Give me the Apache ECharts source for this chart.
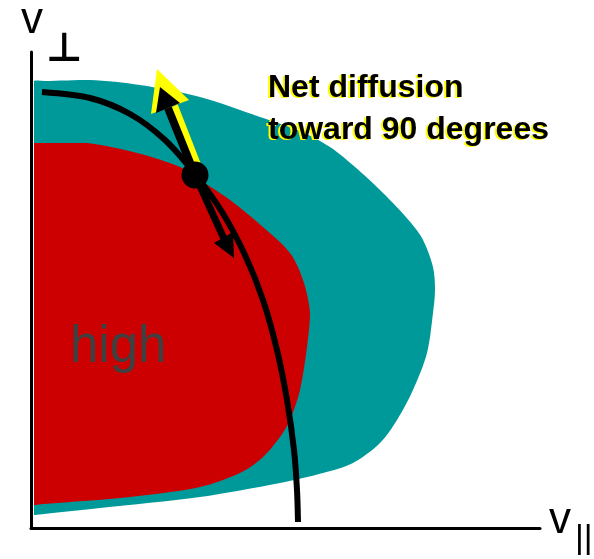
<!DOCTYPE html>
<html><head><meta charset="utf-8">
<script src="https://cdn.jsdelivr.net/npm/echarts@6/dist/echarts.min.js"></script>
<style>html,body{margin:0;padding:0;background:#fff}#c{width:594px;height:559px}</style>
</head><body><div id="c"></div>
<script>
// Diagram data (x = v_parallel position, y = v_perp position, in diagram units)
var tealRegion = [[34,90],[34,81],[44,81],[90,80],[140,85],[200,97],[260,117],[300,131],[330,147],[355,167],[380,190],[405,216],[422,238],[433,267],[435,290],[433,313],[427,353],[413,390],[397,420],[380,443],[353,463],[323,473],[280,483],[200,497],[100,508],[44,514],[34,515],[34,505],[34,300]];
var redRegion = [[34,153],[34,143],[44,143],[87,143],[137,153],[180,167],[200,180],[230,200],[263,227],[290,253],[303,280],[310,313],[307,347],[300,390],[290,420],[280,437],[262,458],[240,473],[200,487],[130,497],[44,504],[34,505],[34,495],[34,320]];
var constEnergyCurve = [[42,92],[90,98],[130,114],[165,140],[195,174],[222,212],[245,255],[263,300],[277,350],[287,400],[294,450],[297,490],[298,522]];
var particlePoint = [[195,175]];
var upShaftYellow = [[199,170],[174,106]];
var upHeadYellow = [[157,69],[151,114],[189,100]];
var upShaft = [[195,175],[168,108]];
var upHead = [[160,87],[156,113],[180,103]];
var downShaft = [[195,175],[225,241]];
var downHead = [[234,258],[214,243],[233,232]];

var chart = echarts.init(document.getElementById('c'));

function polySeries(pts, color, smooth, z) {
  return {
    type: 'custom', coordinateSystem: 'cartesian2d', z: z, silent: true, clip: true,
    data: [pts[0]],
    renderItem: function (params, api) {
      var P = pts.map(function (p) { return api.coord(p); });
      var mn = [Infinity, Infinity], mx = [-Infinity, -Infinity];
      P.forEach(function (q) { mn[0] = Math.min(mn[0], q[0]); mn[1] = Math.min(mn[1], q[1]); mx[0] = Math.max(mx[0], q[0]); mx[1] = Math.max(mx[1], q[1]); });
      return { type: 'polygon', shape: { points: P, smooth: smooth, smoothConstraint: [mn, mx] }, style: { fill: color } };
    }
  };
}
function lineSeries(pts, color, width, smooth, z) {
  return {
    type: 'line', data: pts, smooth: smooth, symbol: 'none', z: z, silent: true,
    lineStyle: { color: color, width: width, cap: 'butt' }
  };
}

chart.setOption({
  animation: false,
  backgroundColor: '#fff',
  grid: { left: 31, right: 54, top: 52, bottom: 31 },
  xAxis: { type: 'value', min: 31, max: 540,
    axisLine: { show: true, onZero: false, lineStyle: { color: '#000', width: 3 } },
    axisTick: { show: false }, axisLabel: { show: false }, splitLine: { show: false } },
  yAxis: { type: 'value', min: 52, max: 528, inverse: true,
    axisLine: { show: true, onZero: false, lineStyle: { color: '#000', width: 3 } },
    axisTick: { show: false }, axisLabel: { show: false }, splitLine: { show: false } },
  series: [
    polySeries(tealRegion, '#009999', 0.3, 1),
    polySeries(redRegion, '#cc0000', 0.3, 2),
    lineSeries(constEnergyCurve, '#000', 6, 0.3, 3),
    lineSeries(upShaftYellow, '#ffff00', 8, false, 4),
    polySeries(upHeadYellow, '#ffff00', 0, 4),
    lineSeries(upShaft, '#000', 8, false, 5),
    polySeries(upHead, '#000', 0, 5),
    lineSeries(downShaft, '#000', 7, false, 5),
    polySeries(downHead, '#000', 0, 5),
    { type: 'scatter', data: particlePoint, symbol: 'circle', symbolSize: 27, z: 6, silent: true,
      itemStyle: { color: '#000', opacity: 1 } }
  ],
  graphic: [
    { type: 'text', z: 100, style: { x: 21, y: 21, text: 'v', font: '44px "Liberation Sans"', fill: '#000', verticalAlign: 'middle' } },
    { type: 'text', z: 100, style: { x: 46, y: 51, text: '⊥', font: 'bold 40px "DejaVu Sans"', fill: '#000', verticalAlign: 'middle' } },
    { type: 'text', z: 100, style: { x: 549, y: 521, text: 'v', font: '44px "Liberation Sans"', fill: '#000', verticalAlign: 'middle' } },
    { type: 'text', z: 100, style: { x: 575, y: 539, text: '||', font: '34px "Liberation Sans"', fill: '#000', verticalAlign: 'middle' } },
    { type: 'text', z: 100, style: { x: 70, y: 348, text: 'high', font: '51px "Liberation Sans"', fill: '#404040', verticalAlign: 'middle' } },
    { type: 'text', z: 100, style: { x: 268, y: 88, text: 'Net diffusion', font: 'bold 32px "Liberation Sans"', fill: '#000', verticalAlign: 'middle',
      textShadowColor: '#ffff00', textShadowOffsetX: -2, textShadowOffsetY: 1.5, textShadowBlur: 0.1 } },
    { type: 'text', z: 100, style: { x: 268, y: 130, text: 'toward 90 degrees', font: 'bold 32px "Liberation Sans"', fill: '#000', verticalAlign: 'middle',
      textShadowColor: '#ffff00', textShadowOffsetX: -2, textShadowOffsetY: 1.5, textShadowBlur: 0.1 } }
  ]
});
</script></body></html>
